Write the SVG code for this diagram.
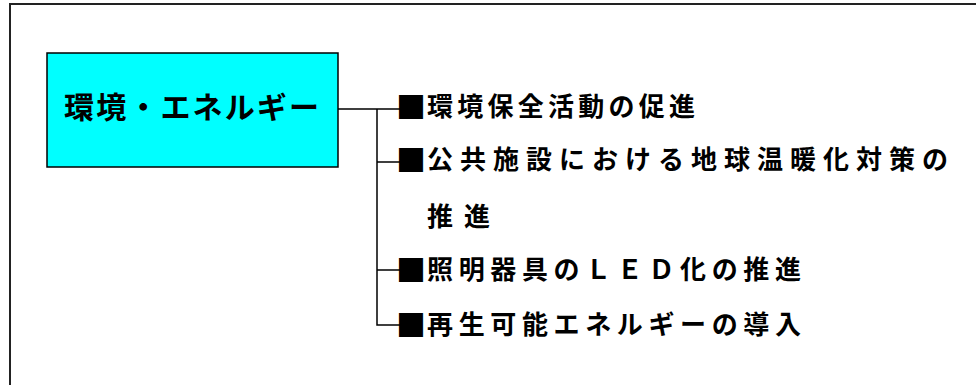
<svg xmlns="http://www.w3.org/2000/svg" width="976" height="385" viewBox="0 0 976 385">
<style>
.t{font-family:"Noto Sans CJK JP","Noto Sans CJK SC",sans-serif;font-weight:bold;fill:#000}
.item{font-size:26px}
.sq{font-size:30px}
.con{fill:none;stroke:#000;stroke-width:1.5}
</style>
<rect x="0" y="0" width="976" height="385" fill="#fff"/>
<rect id="frame" x="10" y="4" width="990" height="400" fill="none" stroke="#222" stroke-width="2"/>
<g id="main">
<rect x="47" y="53" width="291" height="114" fill="#00FFFF" stroke="#000" stroke-width="1.5"/>
<text class="t" x="64" y="118" font-size="30" textLength="255" lengthAdjust="spacing">環境・エネルギー</text>
</g>
<g id="connectors">
<path class="con" d="M338 109H400M377 109V325H400M377 162H400M377 270H400"/>
</g>
<g id="item1">
<text class="t sq" x="396" y="118">■</text>
<text class="t item" x="427" y="116" textLength="268" lengthAdjust="spacing">環境保全活動の促進</text>
</g>
<g id="item2">
<text class="t sq" x="396" y="171">■</text>
<text class="t item" x="427" y="169" textLength="521" lengthAdjust="spacing">公共施設における地球温暖化対策の</text>
<text class="t item" x="427" y="226" textLength="63" lengthAdjust="spacing">推進</text>
</g>
<g id="item3">
<text class="t sq" x="396" y="281">■</text>
<text class="t item" x="427" y="279" textLength="374" lengthAdjust="spacing">照明器具のＬＥＤ化の推進</text>
</g>
<g id="item4">
<text class="t sq" x="396" y="336">■</text>
<text class="t item" x="427" y="334" textLength="374" lengthAdjust="spacing">再生可能エネルギーの導入</text>
</g>
</svg>
